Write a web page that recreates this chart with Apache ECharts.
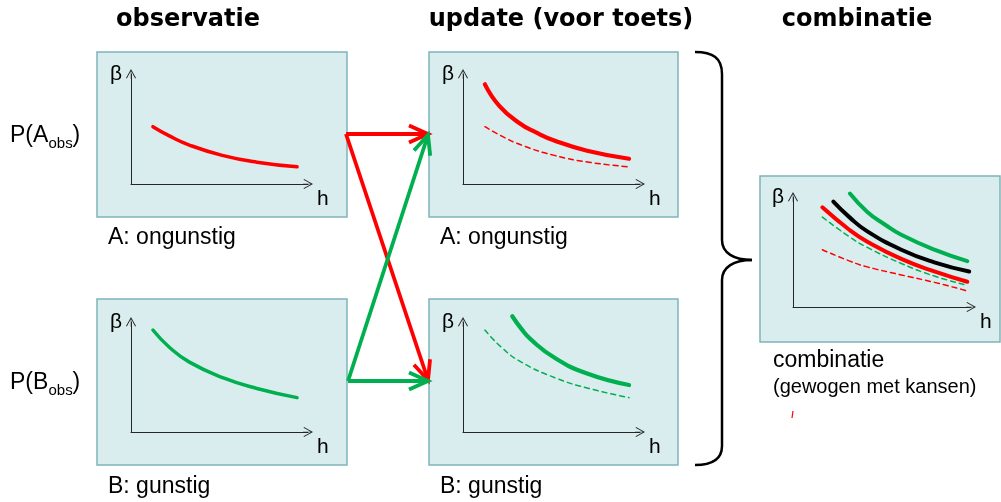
<!DOCTYPE html>
<html>
<head>
<meta charset="utf-8">
<title>observatie - update - combinatie</title>
<script src="https://cdn.jsdelivr.net/npm/echarts@6/dist/echarts.min.js"></script>
<style>
  html, body { margin: 0; padding: 0; background: #fff; }
  #chart { width: 1001px; height: 502px; }
</style>
</head>
<body>
<div id="chart"></div>
<script>
// curves: x = h, y = beta (schematic units)
var obsA = [[12, 50], [21, 42], [32, 34], [50, 25], [69, 19], [91, 15]];
var obsB = [[12, 89], [21, 74], [32, 61], [51, 47], [69, 38], [91, 30]];
var updA = [[12, 87], [20, 68], [31, 53], [40, 45], [50, 38], [68, 29], [91, 22]];
var updB = [[27, 101], [32, 90], [37, 81], [50, 65], [68, 51], [91, 41]];
// combinatie panel
var combB = [[31, 99], [40.5, 83], [50, 72], [59, 63], [77, 50], [95, 40]];
var combMix = [[22, 92], [31, 78], [40.5, 66], [59, 50], [77, 39], [96, 31]];
var combA = [[16, 87], [31, 67], [40.5, 57], [59, 42], [77, 31], [95, 22]];
var combObsB = [[16, 78.5], [31, 61], [40.5, 52], [59, 38], [77, 27], [95, 19]];
var combObsA = [[16, 50], [31, 40], [40.5, 35], [59, 28], [77, 21.5], [95, 14]];

var titles = ['observatie', 'update (voor toets)', 'combinatie'];
var caseA = 'A: ongunstig';
var caseB = 'B: gunstig';

var RED = '#FF0000', GREEN = '#00B050', BLACK = '#000000';
var FONT = '"Liberation Sans", Arial, sans-serif';

// panel frames and axis origins
var panels = [
  { box: [97, 52, 250, 165], left: 131, top: 74, width: 177 },
  { box: [429, 52, 249, 165], left: 463, top: 74, width: 177 },
  { box: [97, 299, 250, 166], left: 131, top: 322, width: 177 },
  { box: [429, 299, 249, 166], left: 463, top: 322, width: 177 },
  { box: [760, 176, 240, 166], left: 793, top: 197, width: 178 }
];

// open ">" arrow head with a short stem, drawn pointing up
var chevron = 'path://M10,0L20,18L18.3,19L10,3.5L1.7,19L0,18ZM9.5,1L10.5,1L10.5,20L9.5,20Z';

var grids = [], xAxes = [], yAxes = [];
panels.forEach(function (p) {
  grids.push({ left: p.left, top: p.top, width: p.width, height: 110, outerBoundsMode: 'none' });
  var axisLine = {
    show: true, onZero: false,
    symbol: ['none', chevron], symbolSize: [10, 10],
    lineStyle: { color: '#262626', width: 1 }
  };
  xAxes.push({
    type: 'value', gridIndex: grids.length - 1, min: 0, max: 97,
    axisLine: axisLine, axisTick: { show: false }, axisLabel: { show: false }, splitLine: { show: false },
    name: 'h', nameLocation: 'end', nameGap: 9,
    nameTextStyle: { fontSize: 21, fontFamily: FONT, color: '#000', align: 'left', verticalAlign: 'top', padding: [5, 0, 0, 0] }
  });
  yAxes.push({
    type: 'value', gridIndex: grids.length - 1, min: 0, max: 96,
    axisLine: axisLine, axisTick: { show: false }, axisLabel: { show: false }, splitLine: { show: false },
    name: 'β', nameLocation: 'end', nameGap: 0,
    nameTextStyle: { fontSize: 21, fontFamily: FONT, color: '#000', align: 'right', verticalAlign: 'middle', padding: [0, 9, 0, 0] }
  });
});

function curve(data, idx, color, width, dashed) {
  return {
    type: 'line', xAxisIndex: idx, yAxisIndex: idx, data: data,
    smooth: 0.5, showSymbol: false, symbol: 'none', clip: false, silent: true,
    z: dashed ? 2 : 3,
    lineStyle: { color: color, width: width, type: dashed ? [5, 4] : 'solid', cap: 'round' }
  };
}

var series = [
  curve(obsA, 0, RED, 3.5),
  curve(obsA, 1, RED, 1.5, true),
  curve(updA, 1, RED, 4.2),
  curve(obsB, 2, GREEN, 3.5),
  curve(obsB, 3, GREEN, 1.5, true),
  curve(updB, 3, GREEN, 4.2),
  curve(combObsA, 4, RED, 1.5, true),
  curve(combObsB, 4, GREEN, 1.5, true),
  curve(combA, 4, RED, 4),
  curve(combMix, 4, BLACK, 4),
  curve(combB, 4, GREEN, 4)
];

// decorations: frames, arrows, brace, texts
var graphics = [];
panels.forEach(function (p) {
  graphics.push({
    type: 'rect', z: -10, silent: true,
    shape: { x: p.box[0], y: p.box[1], width: p.box[2], height: p.box[3] },
    style: { fill: '#DAEDEE', stroke: '#7DB4B9', lineWidth: 1.5 }
  });
});

function arrow(x1, y1, x2, y2, color) {
  var dx = x2 - x1, dy = y2 - y1, len = Math.sqrt(dx * dx + dy * dy);
  var ux = dx / len, uy = dy / len, L = 19, W = 8.5;
  var bx = x2 - ux * L, by = y2 - uy * L;
  graphics.push({ type: 'line', z: 5, silent: true, shape: { x1: x1, y1: y1, x2: x2, y2: y2 },
    style: { stroke: color, lineWidth: 3.8 } });
  graphics.push({ type: 'polyline', z: 5, silent: true,
    shape: { points: [[bx - uy * W, by + ux * W], [x2, y2], [bx + uy * W, by - ux * W]] },
    style: { stroke: color, lineWidth: 3.8, fill: 'none', lineJoin: 'miter' } });
}
arrow(346, 134, 428, 134, RED);
arrow(346, 134, 428, 380, RED);
arrow(348, 381, 428, 135, GREEN);
arrow(348, 381, 428, 381, GREEN);

// curly brace
var braceStyle = { stroke: '#000', lineWidth: 2.5, fill: 'none' };
[
  [695, 52, 722, 74, 713, 52, 722, 58],
  [722, 240, 752, 260, 722, 253, 734, 260],
  [752, 260, 722, 280, 734, 260, 722, 267],
  [722, 446, 695, 465, 722, 459, 713, 465]
].forEach(function (b) {
  graphics.push({ type: 'bezierCurve', silent: true,
    shape: { x1: b[0], y1: b[1], x2: b[2], y2: b[3], cpx1: b[4], cpy1: b[5], cpx2: b[6], cpy2: b[7] },
    style: braceStyle });
});
graphics.push({ type: 'line', silent: true, shape: { x1: 722, y1: 74, x2: 722, y2: 240 }, style: braceStyle });
graphics.push({ type: 'line', silent: true, shape: { x1: 722, y1: 280, x2: 722, y2: 446 }, style: braceStyle });

// tiny red stray mark under the combination text
graphics.push({ type: 'line', silent: true, shape: { x1: 793, y1: 411, x2: 792, y2: 418 }, style: { stroke: RED, lineWidth: 1.2 } });

function text(str, x, y, size, opts) {
  opts = opts || {};
  graphics.push({
    type: 'text', x: x, y: y, silent: true,
    style: {
      text: str, fill: '#000',
      font: (opts.bold ? 'bold ' : '') + size + 'px ' + (opts.family || FONT),
      align: opts.align || 'left', verticalAlign: 'middle'
    }
  });
}
var TITLE_FONT = '"DejaVu Sans", Verdana, sans-serif';
text(titles[0], 188, 20, 24, { bold: true, family: TITLE_FONT, align: 'center' });
text(titles[1], 561, 20, 24, { bold: true, family: TITLE_FONT, align: 'center' });
text(titles[2], 857, 20, 24, { bold: true, family: TITLE_FONT, align: 'center' });

[['A', 136], ['B', 383]].forEach(function (r) {
  text('P(' + r[0], 10, r[1], 23);
  text('obs', 48.5, r[1] + 8, 15);
  text(')', 72.5, r[1], 23);
});

text(caseA, 108, 238, 23);
text(caseA, 440, 238, 23);
text(caseB, 108, 487, 23);
text(caseB, 440, 487, 23);
text('combinatie', 773, 361, 23);
text('(gewogen met kansen)', 773, 387, 20);

var chart = echarts.init(document.getElementById('chart'));
chart.setOption({
  animation: false,
  backgroundColor: '#ffffff',
  grid: grids,
  xAxis: xAxes,
  yAxis: yAxes,
  series: series,
  graphic: { elements: graphics }
});
window.addEventListener('resize', function () { chart.resize(); });
</script>
</body>
</html>
